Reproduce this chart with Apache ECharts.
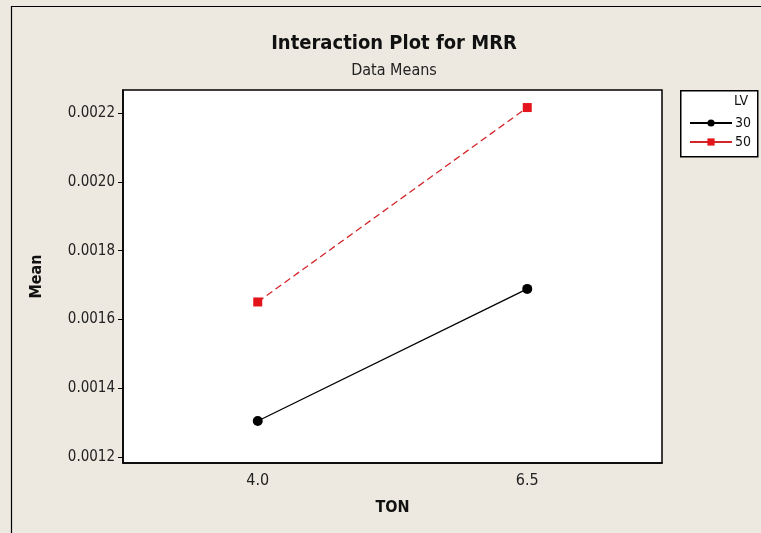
<!DOCTYPE html>
<html>
<head>
<meta charset="utf-8">
<script src="https://cdn.jsdelivr.net/npm/echarts@6/dist/echarts.min.js"></script>
<style>
html,body{margin:0;padding:0;background:#ede9e0;}
#main{width:761px;height:533px;}
</style>
</head>
<body>
<div id="main"></div>
<script>
/*交互作用图*/
var tonLevels = ['4.0', '6.5'];
var lv30 = [0.001305, 0.001689];
var lv50 = [0.001651, 0.002216];
var yTicks = [0.0012, 0.0014, 0.0016, 0.0018, 0.0020, 0.0022];

var font = '"DejaVu Sans Condensed", "DejaVu Sans", sans-serif';
var myChart = echarts.init(document.getElementById('main'));
var option = {
    backgroundColor:'#ede9e0',
    animation:false,
    title:{
        text:'Interaction Plot for MRR',
        subtext:'Data Means',
        left:389,
        textAlign:'center',
        top:29,
        itemGap:9,
        textStyle:{
            fontFamily:font,
            fontSize:20,
            fontWeight:'bold',
            color:'#111'
        },
        subtextStyle:{
            fontFamily:font,
            fontSize:16,
            color:'#222'
        }
    },
    graphic:[
        {
            type:'rect',
            left:9,
            top:4,
            shape:{width:780, height:560},
            style:{fill:'none', stroke:'#000', lineWidth:1.2},
            silent:true
        },
        {
            type:'rect',
            left:680,
            top:90,
            shape:{width:77, height:66},
            style:{fill:'#fff', stroke:'#000', lineWidth:1.5},
            silent:true
        },
        {
            type:'text',
            left:734,
            top:94,
            style:{text:'LV', fontFamily:font, fontSize:14, fill:'#111'},
            silent:true
        }
    ],
    legend:{
        orient:'vertical',
        left:684,
        top:111,
        itemWidth:42,
        itemHeight:9,
        itemGap:5,
        lineStyle:{type:'solid'},
        textStyle:{fontFamily:font, fontSize:14, color:'#111', padding:[0,0,0,-2]},
        data:['30','50']
    },
    grid:{
        left:123,
        right:99,
        top:90,
        bottom:70,
        show:true,
        backgroundColor:'#fff',
        borderColor:'#000',
        borderWidth:1.5
    },
    xAxis:{
        type:'category',
        data:tonLevels,
        boundaryGap:true,
        name:'TON',
        nameLocation:'middle',
        nameGap:37,
        nameTextStyle:{fontFamily:font, fontSize:16, fontWeight:'bold', color:'#111'},
        axisLine:{lineStyle:{color:'#000', width:1.5}},
        axisTick:{alignWithLabel:true, length:5, lineStyle:{color:'#000'}},
        axisLabel:{fontFamily:font, fontSize:16, color:'#222', margin:10},
        splitLine:{show:false}
    },
    yAxis:{
        type:'value',
        min:0.001183,
        max:0.002267,
        name:'Mean',
        nameLocation:'middle',
        nameGap:78,
        nameTextStyle:{fontFamily:font, fontSize:16, fontWeight:'bold', color:'#111'},
        axisLine:{show:true, lineStyle:{color:'#000', width:1.5}},
        axisTick:{show:true, length:5, customValues:yTicks, lineStyle:{color:'#000'}},
        axisLabel:{
            fontFamily:font,
            fontSize:15,
            color:'#222',
            margin:8,
            customValues:yTicks,
            formatter:function(v){ return v.toFixed(4); }
        },
        splitLine:{show:false}
    },
    series:[
        {
            name:'30',
            type:'line',
            data:lv30,
            symbol:'circle',
            symbolSize:10,
            itemStyle:{color:'#000'},
            lineStyle:{color:'#000', width:1.3}
        },
        {
            name:'50',
            type:'line',
            data:lv50,
            symbol:'rect',
            symbolSize:9,
            itemStyle:{color:'#e3141b'},
            lineStyle:{color:'#d3262a', width:1.3, type:[7,4]}
        }
    ]
};
myChart.setOption(option);
</script>
</body>
</html>
